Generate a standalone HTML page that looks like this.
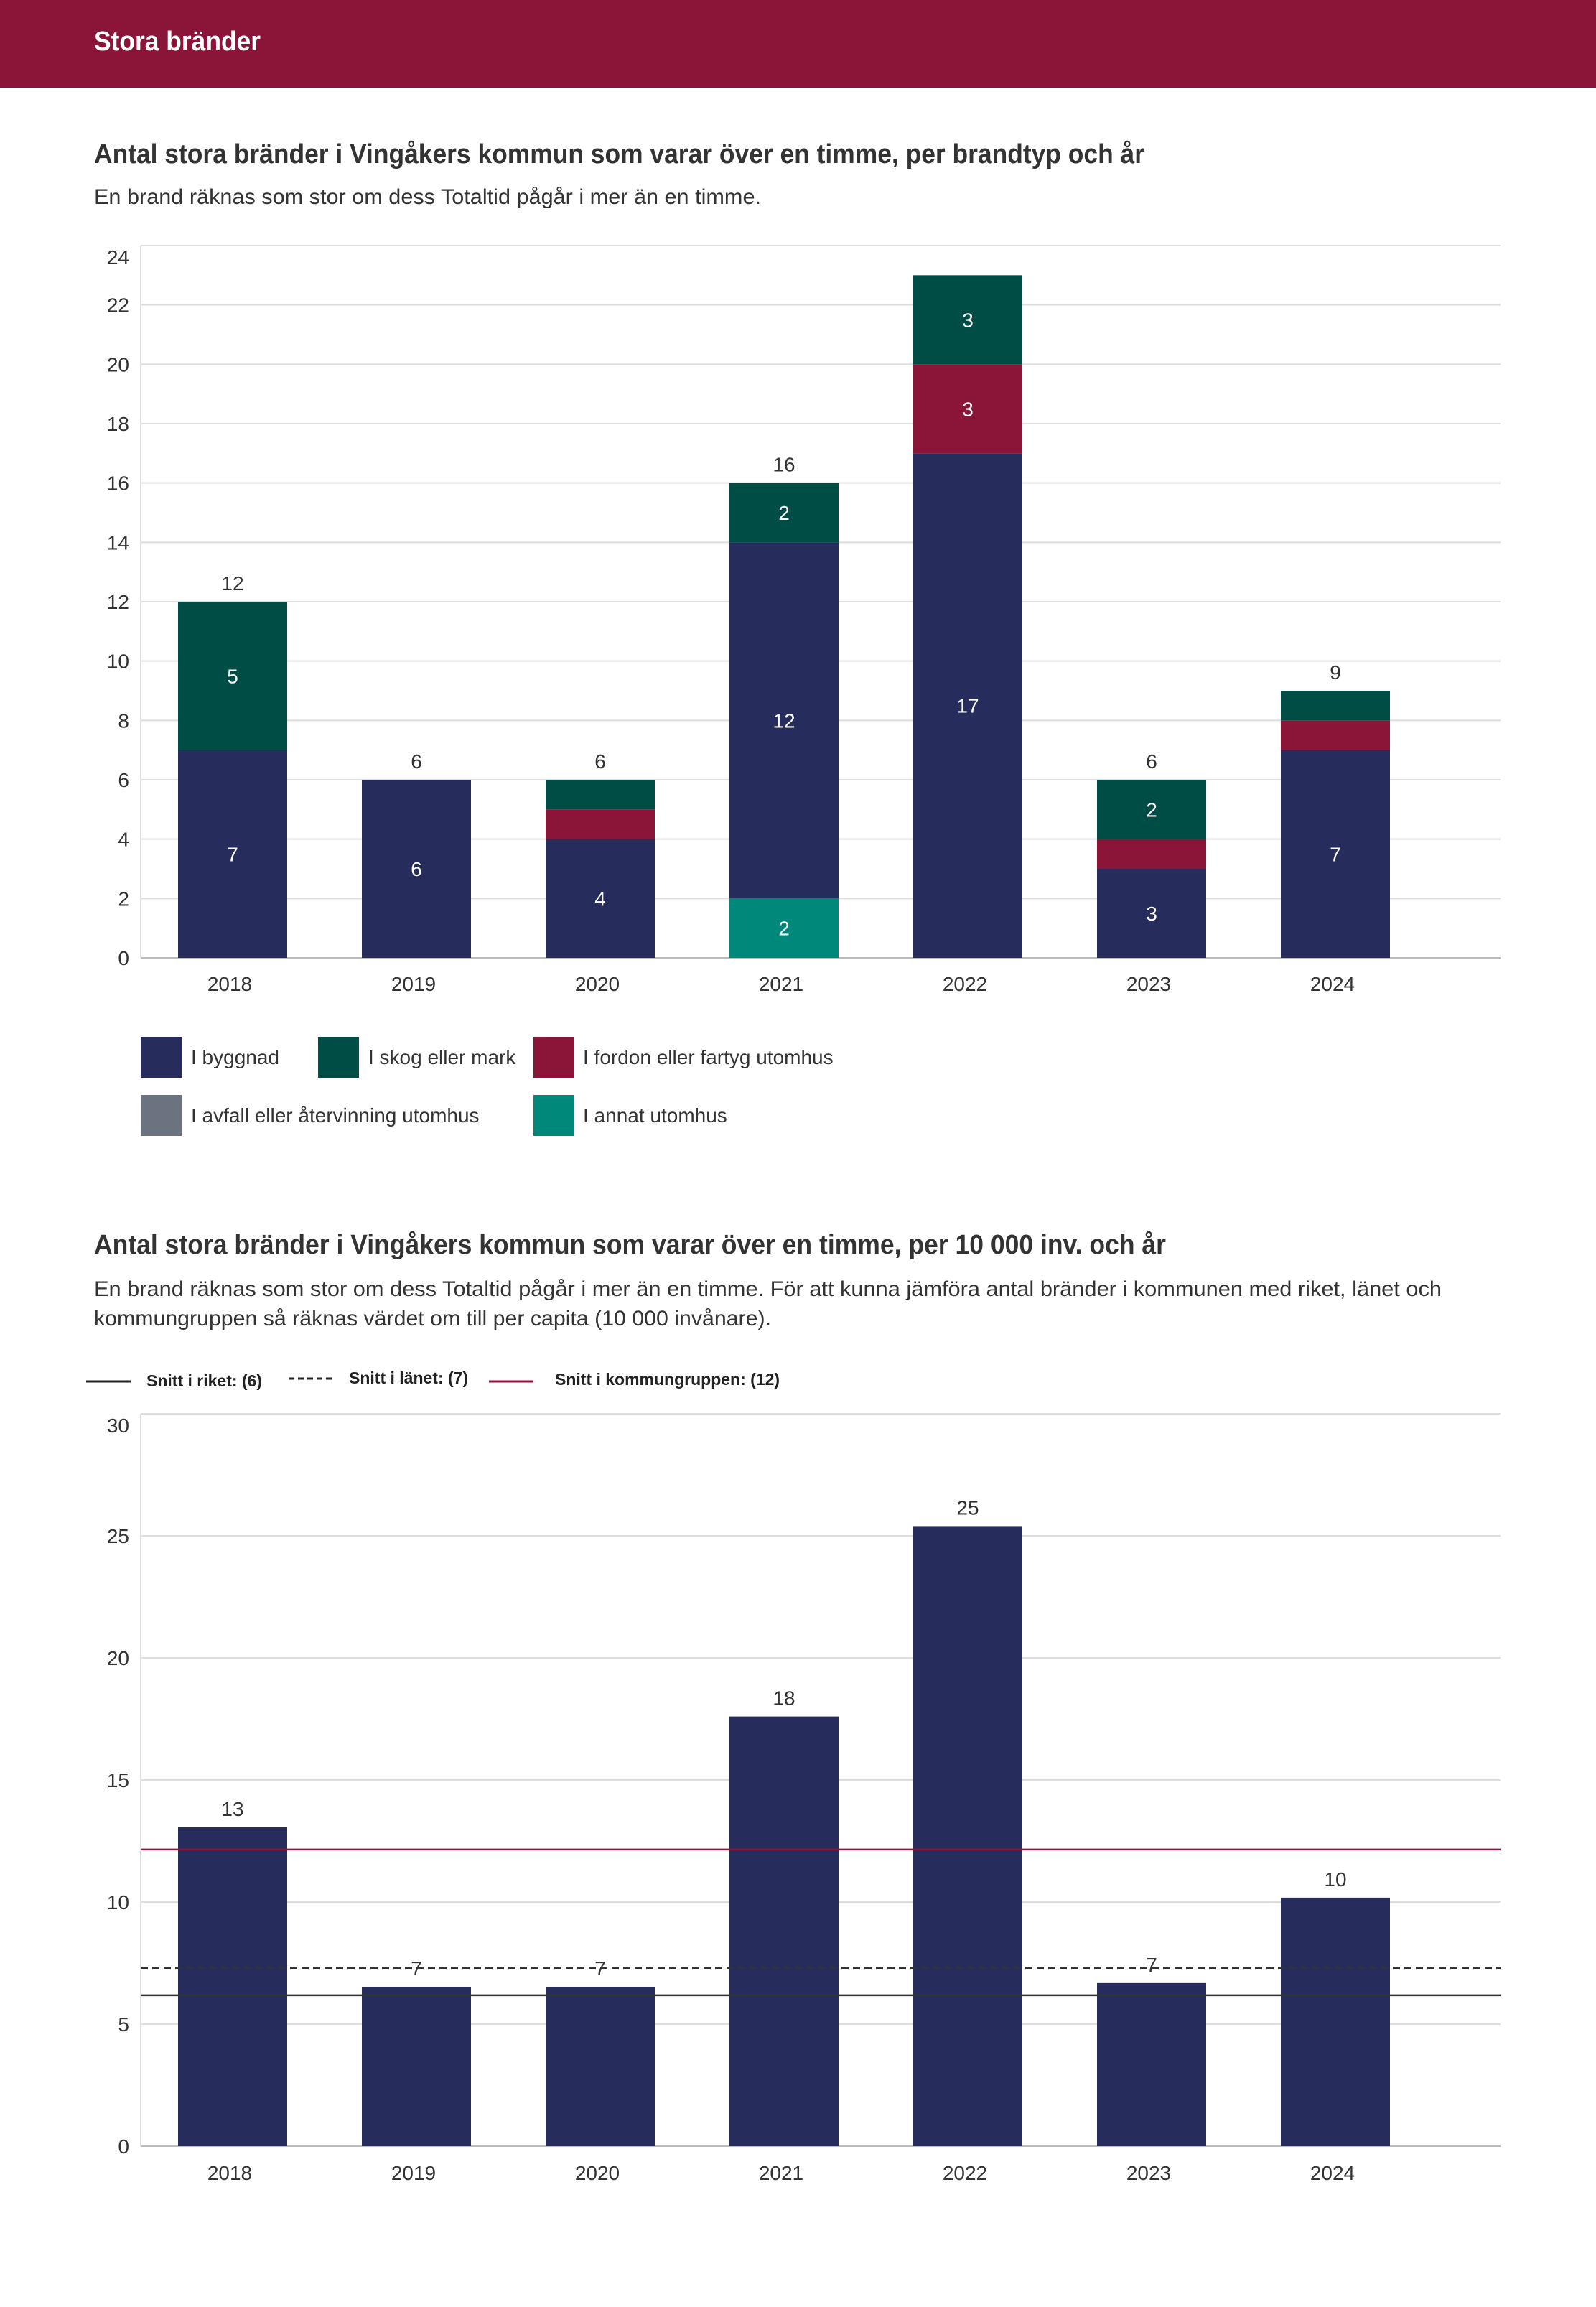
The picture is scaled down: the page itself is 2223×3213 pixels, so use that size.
<!DOCTYPE html>
<html><head><meta charset="utf-8"><style>
html,body{margin:0;padding:0;background:#fff}
svg{display:block;font-family:"Liberation Sans",sans-serif}
</style></head><body>
<svg id="root" width="2223" height="3213" viewBox="0 0 2223 3213">
<rect x="0" y="0" width="2223" height="122" fill="#8b1538"/>
<text x="131" y="70" font-size="38" font-weight="bold" fill="#fff" textLength="232" lengthAdjust="spacingAndGlyphs">Stora bränder</text>

<text x="131" y="227" font-size="38" font-weight="bold" fill="#333" textLength="1463" lengthAdjust="spacingAndGlyphs">Antal stora bränder i Vingåkers kommun som varar över en timme, per brandtyp och år</text>
<text x="131" y="284" font-size="30" fill="#333" textLength="929" lengthAdjust="spacingAndGlyphs">En brand räknas som stor om dess Totaltid pågår i mer än en timme.</text>
<g id="c1"></g>

<g>
<rect x="196" y="1444" width="57" height="57" fill="#262d5c"/>
<text x="266" y="1482" font-size="28" fill="#333">I byggnad</text>
<rect x="443" y="1444" width="57" height="57" fill="#004d45"/>
<text x="513" y="1482" font-size="28" fill="#333">I skog eller mark</text>
<rect x="743" y="1444" width="57" height="57" fill="#8b1538"/>
<text x="812" y="1482" font-size="28" fill="#333">I fordon eller fartyg utomhus</text>
<rect x="196" y="1525" width="57" height="57" fill="#6b7280"/>
<text x="266" y="1563" font-size="28" fill="#333">I avfall eller återvinning utomhus</text>
<rect x="743" y="1525" width="57" height="57" fill="#00897b"/>
<text x="812" y="1563" font-size="28" fill="#333">I annat utomhus</text>
</g>

<text x="131" y="1746" font-size="38" font-weight="bold" fill="#333" textLength="1493" lengthAdjust="spacingAndGlyphs">Antal stora bränder i Vingåkers kommun som varar över en timme, per 10 000 inv. och år</text>
<text x="131" y="1805" font-size="30" fill="#333" textLength="1877" lengthAdjust="spacingAndGlyphs">En brand räknas som stor om dess Totaltid pågår i mer än en timme. För att kunna jämföra antal bränder i kommunen med riket, länet och</text>
<text x="131" y="1846" font-size="30" fill="#333" textLength="943" lengthAdjust="spacingAndGlyphs">kommungruppen så räknas värdet om till per capita (10 000 invånare).</text>

<g>
<line x1="120" y1="1924" x2="182" y2="1924" stroke="#222" stroke-width="3"/>
<text x="204" y="1931" font-size="23" font-weight="bold" fill="#222">Snitt i riket: (6)</text>
<line x1="402" y1="1920" x2="463" y2="1920" stroke="#222" stroke-width="3" stroke-dasharray="8,5"/>
<text x="486" y="1927" font-size="23" font-weight="bold" fill="#222">Snitt i länet: (7)</text>
<line x1="681" y1="1924" x2="743" y2="1924" stroke="#8b1538" stroke-width="3"/>
<text x="773" y="1929" font-size="23" font-weight="bold" fill="#222">Snitt i kommungruppen: (12)</text>
</g>
<g id="c2"></g>
</svg>
<script>
const years = ["2018","2019","2020","2021","2022","2023","2024"];
const annat = [0,0,0,2,0,0,0];
const avfall = [0,0,0,0,0,0,0];
const byggnad = [7,6,4,12,17,3,7];
const fordon = [0,0,1,0,3,1,1];
const skog = [5,0,1,2,3,2,1];
const ticks1 = [0,2,4,6,8,10,12,14,16,18,20,22,24];

const perCapita = [13.06,6.53,6.53,17.6,25.4,6.68,10.18];
const ticks2 = [0,5,10,15,20,25,30];
const avgRiket = [6.18];
const avgLanet = [7.3];
const avgGrupp = [12.15];

const NS="http://www.w3.org/2000/svg";
function mk(tag, attrs, parent){const e=document.createElementNS(NS,tag);for(const k in attrs)e.setAttribute(k,attrs[k]);parent.appendChild(e);return e;}
const L=196,R=2090,BW=152;
function xc(i){return 324+256*i;}

// chart 1
const c1=document.getElementById('c1');
const y1=v=>1334-v*(992/24);
const top1=y1(ticks1[ticks1.length-1]);
ticks1.forEach(t=>{
  const g=mk('line',{x1:L,x2:R,y1:y1(t),y2:y1(t),stroke:t===0?'#bbb':'#ddd','stroke-width':2},c1);
  
  
  const ly=Math.max(y1(t)+10, top1+26);
  const tx=mk('text',{x:180,y:ly,'font-size':28,fill:'#333','text-anchor':'end'},c1);
  tx.textContent=t;
  
  
});
const ax1=mk('line',{x1:L,x2:L,y1:top1,y2:y1(0),stroke:'#ddd','stroke-width':2},c1);


const series=[[annat,'#00897b','annat'],[avfall,'#6b7280','avfall'],[byggnad,'#262d5c','byggnad'],[fordon,'#8b1538','fordon'],[skog,'#004d45','skog']];
years.forEach((yr,i)=>{
  let base=0;
  series.forEach(([arr,col,nm])=>{
    const v=arr[i]; if(!v) return;
    const r=mk('rect',{x:xc(i)-BW/2,y:y1(base+v),width:BW,height:y1(base)-y1(base+v),fill:col},c1);
    
    
    if(v>=2){
      const t=mk('text',{x:xc(i),y:(y1(base)+y1(base+v))/2+10,'font-size':28,fill:'#fff','text-anchor':'middle'},c1);
      t.textContent=v;
      
      
    }
    base+=v;
  });
  const ty=y1(base)-16;
  if(ty-28>=top1){
    const tt=mk('text',{x:xc(i),y:ty,'font-size':28,fill:'#333','text-anchor':'middle'},c1);
    tt.textContent=base;
    
    
  }
  const xl=mk('text',{x:xc(i)-4,y:1380,'font-size':28,fill:'#333','text-anchor':'middle'},c1);
  xl.textContent=yr;
  
  
});

// chart 2
const c2=document.getElementById('c2');
const y2=v=>2989-v*34;
const top2=y2(ticks2[ticks2.length-1]);
ticks2.forEach(t=>{
  const g=mk('line',{x1:L,x2:R,y1:y2(t),y2:y2(t),stroke:t===0?'#bbb':'#ddd','stroke-width':2},c2);
  
  
  const ly=Math.max(y2(t)+10, top2+26);
  const tx=mk('text',{x:180,y:ly,'font-size':28,fill:'#333','text-anchor':'end'},c2);
  tx.textContent=t;
  
  
});
const ax2=mk('line',{x1:L,x2:L,y1:top2,y2:y2(0),stroke:'#ddd','stroke-width':2},c2);


years.forEach((yr,i)=>{
  const v=perCapita[i];
  const r=mk('rect',{x:xc(i)-BW/2,y:y2(v),width:BW,height:y2(0)-y2(v),fill:'#262d5c'},c2);
  
  
  const xl=mk('text',{x:xc(i)-4,y:3036,'font-size':28,fill:'#333','text-anchor':'middle'},c2);
  xl.textContent=yr;
  
  
});
const lr=mk('line',{x1:L,x2:R,y1:y2(avgRiket[0]),y2:y2(avgRiket[0]),stroke:'#333','stroke-width':2.5},c2);


const ll=mk('line',{x1:L,x2:R,y1:y2(avgLanet[0]),y2:y2(avgLanet[0]),stroke:'#333','stroke-width':2.5,'stroke-dasharray':'10,6'},c2);


const lg=mk('line',{x1:L,x2:R,y1:y2(avgGrupp[0]),y2:y2(avgGrupp[0]),stroke:'#8b1538','stroke-width':2.5},c2);


years.forEach((yr,i)=>{
  const v=perCapita[i];
  const t=mk('text',{x:xc(i),y:y2(v)-16,'font-size':28,fill:'#333','text-anchor':'middle'},c2);
  t.textContent=Math.round(v);
  
  
});
</script>
</body></html>
